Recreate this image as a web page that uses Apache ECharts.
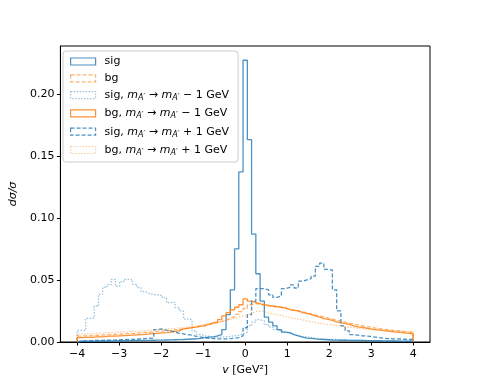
<!DOCTYPE html>
<html>
<head>
<meta charset="utf-8">
<script src="https://cdn.jsdelivr.net/npm/echarts@6/dist/echarts.min.js"></script>
<style>
  html, body { margin: 0; padding: 0; background: #fff; }
  #chart { width: 478px; height: 383px; }
</style>
</head>
<body>
<div id="chart"></div>
<script>
// histogram binning: 79 bins between -4 and 4
const binLo = -4
const binHi = 4
const nBins = 79

const xTicks = [-4, -3, -2, -1, 0, 1, 2, 3, 4]
const yTicks = [0, 0.05, 0.1, 0.15, 0.2]

// bin heights (dσ/σ per bin)
const sig = [
  0.0006, 0.0006, 0.0007, 0.0007, 0.0008, 0.0008, 0.0008, 0.0009, 0.0009, 0.0010,
  0.0010, 0.0011, 0.0011, 0.0012, 0.0012, 0.0013, 0.0013, 0.0014, 0.0015, 0.0015,
  0.0016, 0.0017, 0.0018, 0.0019, 0.0020, 0.0022, 0.0024, 0.0026, 0.0030, 0.0035,
  0.0040, 0.0042, 0.0050, 0.0060, 0.0100, 0.0220, 0.0420, 0.0750, 0.1370, 0.2270,
  0.1630, 0.0870, 0.0550, 0.0330, 0.0200, 0.0160, 0.0130, 0.0100, 0.0080, 0.0075,
  0.0060, 0.0050, 0.0040, 0.0032, 0.0030, 0.0025, 0.0021, 0.0020, 0.0018, 0.0016,
  0.0015, 0.0014, 0.0014, 0.0013, 0.0013, 0.0012, 0.0012, 0.0011, 0.0011, 0.0010,
  0.0010, 0.0009, 0.0009, 0.0008, 0.0008, 0.0007, 0.0007, 0.0006, 0.0006
]
const bg = [
  0.0048, 0.0050, 0.0051, 0.0052, 0.0054, 0.0056, 0.0057, 0.0059, 0.0061, 0.0063,
  0.0065, 0.0067, 0.0069, 0.0071, 0.0074, 0.0076, 0.0079, 0.0082, 0.0084, 0.0087,
  0.0091, 0.0094, 0.0098, 0.0102, 0.0106, 0.0111, 0.0116, 0.0121, 0.0127, 0.0133,
  0.0140, 0.0148, 0.0156, 0.0165, 0.0176, 0.0190, 0.0205, 0.0222, 0.0245, 0.0270,
  0.0300, 0.0310, 0.0305, 0.0298, 0.0292, 0.0287, 0.0282, 0.0278, 0.0272, 0.0265,
  0.0258, 0.0250, 0.0242, 0.0235, 0.0227, 0.0218, 0.0210, 0.0200, 0.0193, 0.0185,
  0.0177, 0.0168, 0.0160, 0.0152, 0.0145, 0.0138, 0.0131, 0.0125, 0.0119, 0.0113,
  0.0108, 0.0103, 0.0099, 0.0095, 0.0091, 0.0087, 0.0083, 0.0080, 0.0077
]
const sigMinus = [
  0.0094, 0.0094, 0.0190, 0.0195, 0.0290, 0.0385, 0.0440, 0.0462, 0.0505, 0.0450,
  0.0486, 0.0505, 0.0500, 0.0465, 0.0438, 0.0406, 0.0390, 0.0382, 0.0379, 0.0376,
  0.0357, 0.0317, 0.0320, 0.0277, 0.0250, 0.0185, 0.0180, 0.0090, 0.0060, 0.0050,
  0.0045, 0.0040, 0.0038, 0.0040, 0.0042, 0.0045, 0.0050, 0.0055, 0.0065, 0.0080,
  0.0130, 0.0160, 0.0180, 0.0170, 0.0140, 0.0120, 0.0100, 0.0090, 0.0080, 0.0070,
  0.0060, 0.0050, 0.0045, 0.0040, 0.0035, 0.0030, 0.0028, 0.0025, 0.0022, 0.0020,
  0.0018, 0.0017, 0.0016, 0.0015, 0.0014, 0.0013, 0.0012, 0.0012, 0.0011, 0.0010,
  0.0010, 0.0009, 0.0009, 0.0008, 0.0008, 0.0007, 0.0007, 0.0006, 0.0006
]
const bgMinus = [
  0.0035, 0.0037, 0.0038, 0.0040, 0.0042, 0.0041, 0.0045, 0.0047, 0.0048, 0.0050,
  0.0052, 0.0053, 0.0056, 0.0058, 0.0060, 0.0062, 0.0065, 0.0068, 0.0070, 0.0073,
  0.0076, 0.0080, 0.0085, 0.0090, 0.0105, 0.0110, 0.0115, 0.0120, 0.0128, 0.0130,
  0.0145, 0.0155, 0.0160, 0.0180, 0.0210, 0.0236, 0.0260, 0.0280, 0.0300, 0.0347,
  0.0330, 0.0320, 0.0310, 0.0300, 0.0295, 0.0290, 0.0285, 0.0280, 0.0275, 0.0260,
  0.0255, 0.0250, 0.0236, 0.0230, 0.0222, 0.0210, 0.0200, 0.0188, 0.0183, 0.0175,
  0.0162, 0.0155, 0.0148, 0.0142, 0.0130, 0.0122, 0.0117, 0.0112, 0.0105, 0.0100,
  0.0097, 0.0092, 0.0088, 0.0084, 0.0080, 0.0077, 0.0074, 0.0070, 0.0066
]
const sigPlus = [
  0.0008, 0.0008, 0.0010, 0.0012, 0.0012, 0.0013, 0.0015, 0.0015, 0.0016, 0.0018,
  0.0018, 0.0020, 0.0020, 0.0022, 0.0025, 0.0028, 0.0030, 0.0032, 0.0100, 0.0105,
  0.0095, 0.0090, 0.0080, 0.0070, 0.0065, 0.0060, 0.0055, 0.0045, 0.0040, 0.0035,
  0.0030, 0.0028, 0.0025, 0.0025, 0.0025, 0.0028, 0.0030, 0.0035, 0.0050, 0.0115,
  0.0220, 0.0330, 0.0430, 0.0430, 0.0420, 0.0380, 0.0360, 0.0370, 0.0430, 0.0440,
  0.0460, 0.0435, 0.0490, 0.0500, 0.0510, 0.0530, 0.0610, 0.0635, 0.0585, 0.0580,
  0.0420, 0.0250, 0.0130, 0.0090, 0.0060, 0.0055, 0.0050, 0.0048, 0.0045, 0.0040,
  0.0035, 0.0030, 0.0028, 0.0026, 0.0025, 0.0024, 0.0022, 0.0020, 0.0020
]
const bgPlus = [
  0.0065, 0.0066, 0.0068, 0.0068, 0.0071, 0.0072, 0.0074, 0.0076, 0.0077, 0.0079,
  0.0081, 0.0083, 0.0085, 0.0086, 0.0089, 0.0091, 0.0093, 0.0096, 0.0099, 0.0101,
  0.0104, 0.0107, 0.0110, 0.0114, 0.0118, 0.0122, 0.0126, 0.0131, 0.0136, 0.0141,
  0.0147, 0.0153, 0.0160, 0.0167, 0.0175, 0.0183, 0.0192, 0.0200, 0.0210, 0.0218,
  0.0230, 0.0245, 0.0250, 0.0245, 0.0232, 0.0225, 0.0220, 0.0215, 0.0205, 0.0198,
  0.0190, 0.0184, 0.0178, 0.0170, 0.0163, 0.0157, 0.0150, 0.0146, 0.0142, 0.0137,
  0.0133, 0.0129, 0.0124, 0.0120, 0.0116, 0.0112, 0.0108, 0.0105, 0.0102, 0.0099,
  0.0096, 0.0094, 0.0092, 0.0090, 0.0089, 0.0087, 0.0086, 0.0084, 0.0082
]

const font = 'DejaVu Sans'
const blue = a => `rgba(31,119,180,${a})`
const orange = a => `rgba(255,127,14,${a})`

const histSeries = [
  { name: 'sig', values: sig, color: blue(0.8), type: 'solid' },
  { name: 'bg', values: bg, color: orange(0.6), type: 'dashed' },
  { name: 'sig-1', values: sigMinus, color: blue(0.45), type: 'dotted' },
  { name: 'bg-1', values: bgMinus, color: orange(0.85), type: 'solid' },
  { name: 'sig+1', values: sigPlus, color: blue(0.8), type: 'dashed' },
  { name: 'bg+1', values: bgPlus, color: orange(0.4), type: 'dotted' }
]

const legendText = {
  'sig': '{t|sig}',
  'bg': '{t|bg}',
  'sig-1': '{t|sig, }{i|m}{s|A′}{t| → }{i|m}{s|A′}{t| − 1 GeV}',
  'bg-1': '{t|bg, }{i|m}{s|A′}{t| → }{i|m}{s|A′}{t| − 1 GeV}',
  'sig+1': '{t|sig, }{i|m}{s|A′}{t| → }{i|m}{s|A′}{t| + 1 GeV}',
  'bg+1': '{t|bg, }{i|m}{s|A′}{t| → }{i|m}{s|A′}{t| + 1 GeV}'
}

const dashFor = t => t === 'dashed' ? [4, 2] : t === 'dotted' ? [1.5, 1.5] : 'solid'

// outline of a step histogram: [edge, height] pairs drawn with step 'end'
const stepData = (values) => {
  const w = (binHi - binLo) / nBins
  const pts = [[binLo, 0]]
  values.forEach((v, i) => pts.push([binLo + i * w, v]))
  pts.push([binHi, values[values.length - 1]])
  pts.push([binHi, 0])
  return pts
}

const chart = echarts.init(document.getElementById('chart'), null, { renderer: 'canvas' })

chart.setOption({
  animation: false,
  backgroundColor: '#fff',
  grid: {
    left: 60, right: 48, top: 46, bottom: 41,
    show: true, borderColor: '#000', borderWidth: 1, backgroundColor: 'transparent'
  },
  legend: {
    orient: 'vertical',
    left: 63, top: 51,
    padding: [5, 9, 5, 7],
    itemGap: 5.8,
    itemWidth: 25,
    itemHeight: 7,
    backgroundColor: 'rgba(255,255,255,0.8)',
    borderColor: '#cccccc',
    borderWidth: 1,
    borderRadius: 3,
    selectedMode: false,
    data: histSeries.map(s => ({
      name: s.name,
      icon: 'rect',
      itemStyle: {
        color: 'rgba(0,0,0,0)',
        borderColor: s.color,
        borderWidth: 1.2,
        borderType: dashFor(s.type)
      }
    })),
    formatter: name => legendText[name],
    textStyle: {
      padding: [0, 0, 0, 4],
      rich: {
        t: { fontFamily: font, fontSize: 11, color: '#000', lineHeight: 14 },
        i: { fontFamily: font, fontSize: 11, fontStyle: 'italic', color: '#000', lineHeight: 14 },
        s: { fontFamily: font, fontSize: 8, fontStyle: 'italic', color: '#000', lineHeight: 14, verticalAlign: 'bottom' }
      }
    }
  },
  xAxis: {
    type: 'value',
    min: -4.4,
    max: 4.4,
    splitLine: { show: false },
    axisLine: { show: true, onZero: false, lineStyle: { color: '#000' } },
    axisTick: { show: true, customValues: xTicks, length: 3.5, lineStyle: { color: '#000' } },
    axisLabel: {
      customValues: xTicks,
      margin: 7,
      fontFamily: font, fontSize: 11, color: '#000',
      formatter: v => v < 0 ? '\u2212' + Math.abs(v) : String(v)
    },
    name: '{i|v} [GeV²]',
    nameLocation: 'middle',
    nameGap: 22,
    nameTextStyle: {
      fontFamily: font, fontSize: 11, color: '#000',
      rich: {
        i: { fontFamily: font, fontSize: 11, fontStyle: 'italic', color: '#000' }
      }
    }
  },
  yAxis: {
    type: 'value',
    min: 0,
    max: 0.2385,
    splitLine: { show: false },
    axisLine: { show: true, onZero: false, lineStyle: { color: '#000' } },
    axisTick: { show: true, customValues: yTicks, length: 3.5, lineStyle: { color: '#000' } },
    axisLabel: {
      customValues: yTicks,
      margin: 6,
      fontFamily: font, fontSize: 11, color: '#000',
      formatter: v => v.toFixed(2)
    },
    name: 'dσ/σ',
    nameLocation: 'middle',
    nameRotate: 90,
    nameGap: 35,
    nameTextStyle: { fontFamily: font, fontSize: 11, fontStyle: 'italic', color: '#000' }
  },
  series: histSeries.map(s => ({
    name: s.name,
    type: 'line',
    step: 'end',
    showSymbol: false,
    symbol: 'none',
    clip: true,
    data: stepData(s.values),
    itemStyle: { color: s.color },
    lineStyle: { color: s.color, width: 1.3, type: dashFor(s.type) }
  }))
})
</script>
</body>
</html>
